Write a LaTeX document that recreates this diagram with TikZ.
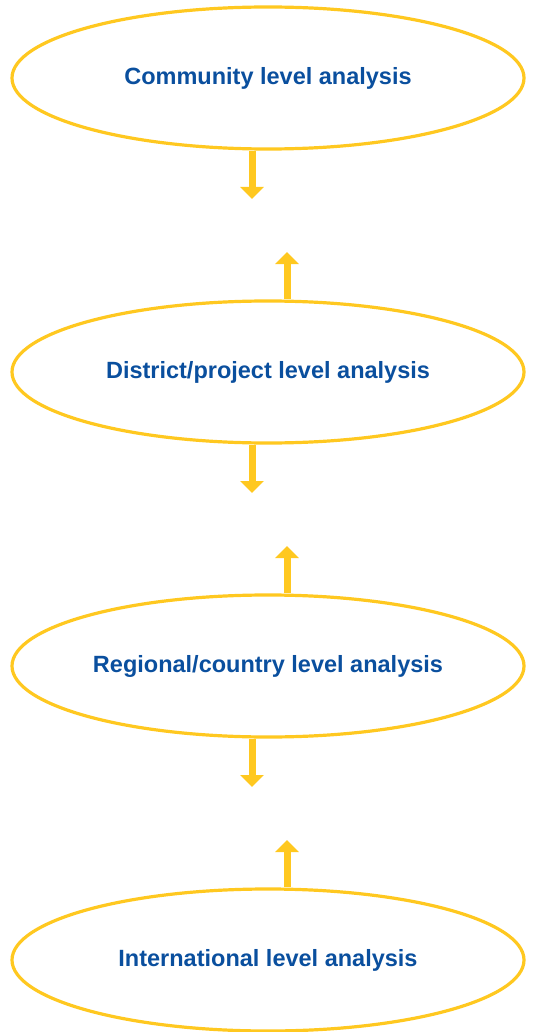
\documentclass[tikz,border=0pt]{standalone}
\usepackage{fontspec}
\setmainfont{Liberation Sans}
\usetikzlibrary{shapes.geometric,arrows.meta}
\definecolor{ylw}{HTML}{FFC820}
\definecolor{blu}{HTML}{0A4F9E}
\tikzset{
  lvl/.style={ellipse,draw=ylw,line width=3.2pt,minimum width=512pt,minimum height=142pt,inner sep=0pt,
    text=blu,font=\bfseries\fontsize{23.5}{28}\selectfont},
  flow/.style={draw=ylw,line width=7pt,-{Triangle[width=23pt,length=12pt]}}
}
\begin{document}
\begin{tikzpicture}[x=1pt,y=-1pt]
\useasboundingbox (0,0) rectangle (536,1032);
\node[lvl] (e1) at (268,78) {Community level analysis};
\node[lvl] (e2) at (268,372) {District/project level analysis};
\node[lvl] (e3) at (268,666) {Regional/country level analysis};
\node[lvl] (e4) at (268,960) {International level analysis};
\coordinate (d1) at (252,199);
\coordinate (u1) at (287,252);
\coordinate (d2) at (252,493);
\coordinate (u2) at (287,546);
\coordinate (d3) at (252,787);
\coordinate (u3) at (287,840);
\draw[flow] (e1.south -| d1) -- (d1);
\draw[flow] (e2.north -| u1) -- (u1);
\draw[flow] (e2.south -| d2) -- (d2);
\draw[flow] (e3.north -| u2) -- (u2);
\draw[flow] (e3.south -| d3) -- (d3);
\draw[flow] (e4.north -| u3) -- (u3);
\end{tikzpicture}
\end{document}
